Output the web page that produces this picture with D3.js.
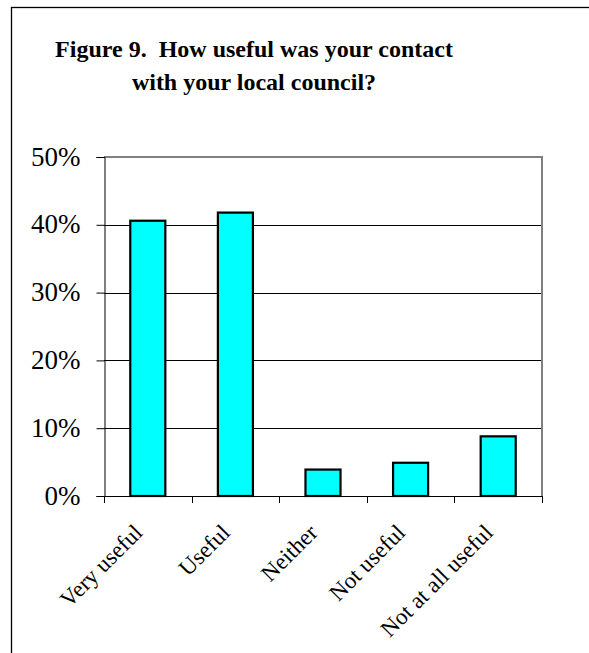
<!DOCTYPE html>
<html>
<head>
<meta charset="utf-8">
<script src="https://cdn.jsdelivr.net/npm/d3@7"></script>
<style>
  html, body { margin: 0; padding: 0; background: #fff; }
  svg { display: block; }
  text { font-family: "Liberation Serif", "Times New Roman", serif; fill: #000; }
</style>
</head>
<body>
<script>
// Survey responses: usefulness of contact with the local council
const categories = ["Very useful", "Useful", "Neither", "Not useful", "Not at all useful"];
const shares = [0.406, 0.418, 0.039, 0.049, 0.088];
const yTicks = [0, 0.1, 0.2, 0.3, 0.4, 0.5];
const titleLines = ["Figure 9.  How useful was your contact", "with your local council?"];

const W = 589, H = 653;
const plot = { left: 104, right: 542, top: 157, bottom: 496 };

const svg = d3.select("body").append("svg")
  .attr("width", W).attr("height", H);

// outer frame
svg.append("rect")
  .attr("x", 11.5).attr("y", 7.5)
  .attr("width", 700).attr("height", 800)
  .attr("fill", "none").attr("stroke", "#000").attr("stroke-width", 1.3);

// title
svg.append("g").selectAll("text").data(titleLines).join("text")
  .attr("x", 254).attr("y", (d, i) => 57 + i * 33)
  .attr("text-anchor", "middle")
  .style("font-size", "24px").style("font-weight", "bold")
  .style("white-space", "pre")
  .text(d => d);

const x = d3.scaleBand().domain(categories)
  .range([plot.left, plot.right])
  .paddingInner(0.6).paddingOuter(0.3);

const y = d3.scaleLinear().domain([0, 0.5]).range([plot.bottom, plot.top]);

// horizontal gridlines
svg.append("g").selectAll("line").data(yTicks.filter(t => t > 0 && t < 0.5)).join("line")
  .attr("x1", plot.left).attr("x2", plot.right)
  .attr("y1", d => Math.round(y(d)) + 0.5).attr("y2", d => Math.round(y(d)) + 0.5)
  .attr("stroke", "#000").attr("stroke-width", 1);

// plot area border (top and right)
svg.append("path")
  .attr("d", `M${plot.left},${plot.top}H${plot.right}V${plot.bottom}`)
  .attr("fill", "none").attr("stroke", "#808080").attr("stroke-width", 2);

// bars
svg.append("g").selectAll("rect").data(categories).join("rect")
  .attr("x", d => x(d))
  .attr("y", (d, i) => y(shares[i]))
  .attr("width", x.bandwidth())
  .attr("height", (d, i) => y(0) - y(shares[i]))
  .attr("fill", "#00FFFF").attr("stroke", "#000").attr("stroke-width", 2.2);

// y axis
const yAxis = d3.axisLeft(y).tickValues(yTicks)
  .tickFormat(d3.format(".0%")).tickSize(8).tickPadding(16);
const gy = svg.append("g").attr("transform", `translate(${plot.left + 0.5},0)`).call(yAxis);
gy.select(".domain").attr("stroke", "#000");
gy.selectAll(".tick line").attr("stroke", "#000");
gy.selectAll(".tick text")
  .style("font-size", "27px").style("font-family", "Liberation Serif, serif")
  .attr("dy", "0.3em");

// x axis: baseline and boundary ticks between categories
const step = x.step();
const boundaries = d3.range(categories.length + 1).map(i => plot.left + i * step);
const gx = svg.append("g");
gx.append("line")
  .attr("x1", plot.left).attr("x2", plot.right)
  .attr("y1", plot.bottom + 0.5).attr("y2", plot.bottom + 0.5)
  .attr("stroke", "#000");
gx.selectAll("line.b").data(boundaries).join("line").attr("class", "b")
  .attr("x1", d => Math.round(d) + 0.5).attr("x2", d => Math.round(d) + 0.5)
  .attr("y1", plot.bottom).attr("y2", plot.bottom + 7)
  .attr("stroke", "#000");

// rotated category labels
gx.selectAll("text").data(categories).join("text")
  .attr("transform", d => `translate(${x(d) + x.bandwidth() / 2 - 4},534) rotate(-45)`)
  .attr("text-anchor", "end")
  .style("font-size", "23px")
  .text(d => d);
</script>
</body>
</html>
